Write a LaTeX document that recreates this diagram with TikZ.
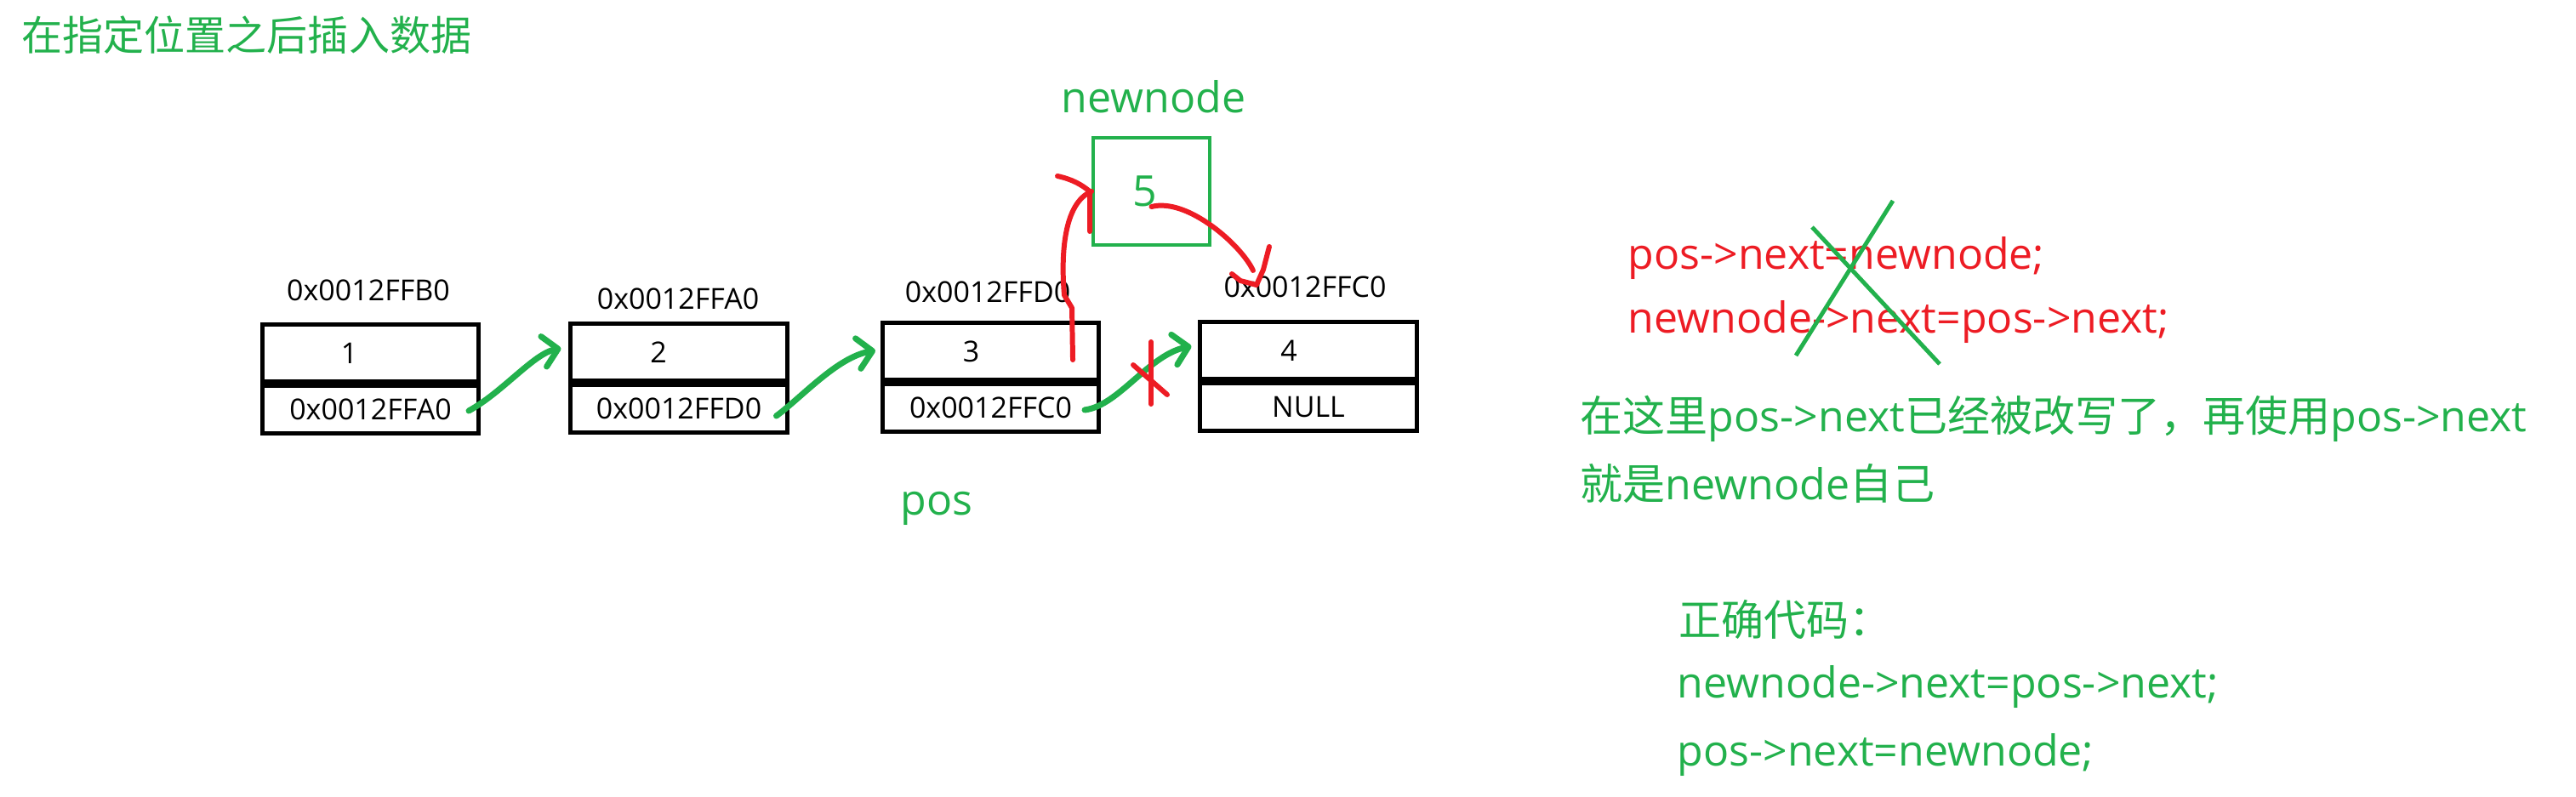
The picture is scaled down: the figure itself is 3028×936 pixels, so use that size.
\documentclass[tikz,border=0pt]{standalone}
\usepackage{fontspec}
\setmainfont{Open Sans}
\newfontfamily\cjk{Noto Sans CJK SC}
\usetikzlibrary{arrows.meta, positioning}

\definecolor{pengreen}{RGB}{34,177,76}
\definecolor{penred}{RGB}{237,28,36}

\begin{document}
\begin{tikzpicture}[
    x=0.01cm, y=-0.01cm,
    cell/.style={draw, line width=1.4pt, minimum width=2.54cm, inner sep=0pt,
                 font=\fontsize{9.67}{11}\selectfont},
    datacell/.style={cell, minimum height=0.67cm},
    ptrcell/.style={cell, minimum height=0.56cm},
    val/.style={inner sep=0pt, font=\fontsize{9.67}{11}\selectfont},
    addr/.style={inner sep=0pt, anchor=base, font=\fontsize{9.67}{11}\selectfont},
    big/.style={inner sep=0pt, text=pengreen, font=\fontsize{14.23}{17}\selectfont},
    heading/.style={inner sep=0pt, anchor=base west, text=pengreen,
                    font=\cjk\fontsize{13.66}{16}\selectfont},
    note/.style={inner sep=0pt, anchor=base west, font=\fontsize{14.23}{17}\selectfont},
    link/.style={pengreen, line width=2pt, line cap=round,
                 -{Straight Barb[length=0.17cm, width=0.36cm, round]}},
    redpen/.style={penred, line width=1.7pt, line cap=round, line join=round},
    xpen/.style={pengreen, line width=1.4pt},
  ]
  \fill[white] (0,0) rectangle (3028,936);
  \useasboundingbox (0,0) rectangle (3028,936);

  % Title
  \node[heading] (title) at (25,59) {在指定位置之后插入数据};

  % List nodes
  \node[datacell] (n1d) at (435.5,415) {};
  \node[ptrcell, below=0pt of n1d] (n1p) {0x0012FFA0};
  \node[val] (v1) at ([xshift=-0.25cm]n1d.center) {1};

  \node[datacell] (n2d) at (798,414) {};
  \node[ptrcell, below=0pt of n2d] (n2p) {0x0012FFD0};
  \node[val] (v2) at ([xshift=-0.24cm]n2d.center) {2};

  \node[datacell] (n3d) at (1164.5,413) {};
  \node[ptrcell, below=0pt of n3d] (n3p) {0x0012FFC0};
  \node[val] (v3) at ([xshift=-0.23cm]n3d.center) {3};

  \node[datacell] (n4d) at (1538,412) {};
  \node[ptrcell, below=0pt of n4d] (n4p) {NULL};
  \node[val] (v4) at ([xshift=-0.23cm]n4d.center) {4};

  % Addresses
  \node[addr] (a1) at (433,353) {0x0012FFB0};
  \node[addr] (a2) at (797,363) {0x0012FFA0};
  \node[addr] (a3) at (1161,355) {0x0012FFD0};
  \node[addr] (a4) at (1534,349) {0x0012FFC0};

  % New node
  \node[draw=pengreen, line width=1.1pt, minimum width=1.37cm,
        minimum height=1.26cm] (nn) at (1353.5,225) {};
  \node[big] (v5) at ([xshift=-0.08cm]nn.center) {5};
  \node[big, anchor=base] (nnlbl) at (1356,132) {newnode};
  \node[big, anchor=base] (poslbl) at (1101,605) {pos};

  % next pointers
  \draw[link] ([xshift=-0.14cm, yshift=-0.015cm]n1p.east)
      .. controls +(40,-22) and +(-32,6) .. ([xshift=-0.09cm, yshift=0.045cm]n2d.west);
  \draw[link] ([xshift=-0.15cm, yshift=-0.085cm]n2p.east)
      .. controls +(30,-22) and +(-45,8) .. ([xshift=-0.06cm, yshift=0.01cm]n3d.west);
  \draw[link] ([xshift=-0.19cm, yshift=-0.025cm]n3p.east)
      .. controls +(40,-5) and +(-50,10) .. ([xshift=-0.08cm, yshift=0.05cm]n4d.west);

  % pos->next = newnode
  \draw[redpen] ([xshift=-0.33cm, yshift=-0.1cm]n3d.east) -- ++(-1,-61) -- ++(-9,-15)
      .. controls +(-4,-47) and +(-33,14) .. (nn.west);
  \draw[redpen] ([xshift=-0.4cm, yshift=0.18cm]nn.west)
      .. controls +(18,4) and +(-10,-8) .. ([xshift=-0.02cm]nn.west) -- ++(0,47);

  % newnode->next = pos->next
  \coordinate (hit) at ([xshift=-0.57cm, yshift=0.14cm]a4.base);
  \draw[redpen] ([yshift=-0.18cm]nn.center)
      .. controls +(42,-11) and +(-14,-30) .. ([xshift=-0.04cm, yshift=0.17cm]hit);
  \draw[redpen] ([xshift=-0.29cm, yshift=0.13cm]hit) -- ++(10,8) -- (hit)
      -- ++(8,-18) -- ++(7,-27);

  % old link cut
  \draw[redpen] (1353,402) -- (1353,475);
  \draw[redpen] (1332,429) -- (1372,464);

  % Wrong order
  \node[note, text=penred] (wrong1) at (1913,316) {pos->next=newnode;};
  \node[note, text=penred] (wrong2) at (1913,391) {newnode->next=pos->next;};
  \draw[xpen] (2130,267) -- (2280,428);
  \draw[xpen] (2225,236) -- (2111,418);

  % Explanation and fix
  \node[note, text=pengreen] (why1) at (1857,507)
      {{\cjk 在这里}pos->next{\cjk 已经被改写了，再使用}pos->next};
  \node[note, text=pengreen] (why2) at (1857,587) {{\cjk 就是}newnode{\cjk 自己}};
  \node[note, text=pengreen] (fixhdr) at (1973,747) {{\cjk 正确代码：}};
  \node[note, text=pengreen] (fix1) at (1971,820) {newnode->next=pos->next;};
  \node[note, text=pengreen] (fix2) at (1971,900) {pos->next=newnode;};
\end{tikzpicture}
\end{document}
